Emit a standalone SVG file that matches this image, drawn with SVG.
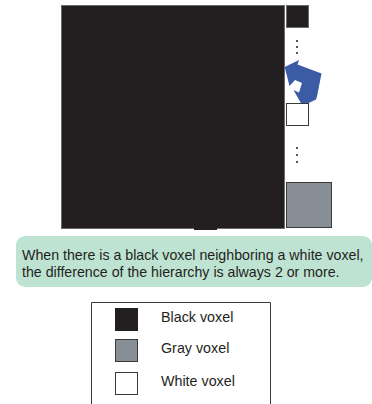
<svg xmlns="http://www.w3.org/2000/svg" width="372" height="404" viewBox="0 0 372 404">
<style>
.t{font-family:"Liberation Sans",Arial,sans-serif;fill:#231f20}
.blk{fill:#231f20;stroke:#6b6b6b;stroke-width:1}
.gry{fill:#878e95;stroke:#3a3a3a;stroke-width:1}
.wht{fill:#ffffff;stroke:#3a3a3a;stroke-width:1}
.dot{fill:#231f20}
</style>
<rect width="372" height="404" fill="#ffffff"/>
<g id="big-black">
<rect class="blk" x="61.5" y="5.5" width="223" height="223"/>
<rect x="194" y="228" width="23" height="2" fill="#231f20"/>
</g>
<g id="small-black"><rect class="blk" x="286.5" y="5.5" width="22" height="22"/></g>
<g id="dots1"><circle class="dot" cx="297" cy="41" r="1"/><circle class="dot" cx="297" cy="47" r="1"/><circle class="dot" cx="297" cy="53" r="1"/></g>
<g id="connectors">
<polygon fill="#3b5ba5" points="284.7,67 299,60 297.5,64.5 321.5,73.5 317,96.5 316,99.5 302.5,106 293.5,90 299,92.5 302,83 295,80 289.5,86"/>
</g>
<g id="small-white"><rect class="wht" x="286.5" y="103.5" width="22" height="22"/></g>
<g id="dots2"><circle class="dot" cx="297" cy="148" r="1"/><circle class="dot" cx="297" cy="155" r="1"/><circle class="dot" cx="297" cy="162" r="1"/></g>
<g id="gray-box"><rect class="gry" x="286.5" y="182.5" width="45" height="45"/></g>
<g id="note">
<rect x="16" y="236" width="356" height="51" rx="9" fill="#bfe3d3"/>
<text class="t" x="22" y="260" font-size="14.2">When there is a black voxel neighboring a white voxel,</text>
<text class="t" x="22" y="277" font-size="14.2">the difference of the hierarchy is always 2 or more.</text>
</g>
<g id="legend">
<path d="M91.5,404 V302.5 H270.5 V404" fill="none" stroke="#3a3a3a" stroke-width="1"/>
<rect class="blk" x="115.5" y="308.5" width="22" height="22" style="stroke:#231f20"/>
<rect class="gry" x="115.5" y="339.5" width="22" height="22"/>
<rect class="wht" x="115.5" y="372.5" width="22" height="22"/>
<text class="t" x="161" y="322" font-size="14.3">Black voxel</text>
<text class="t" x="161" y="353" font-size="14.3">Gray voxel</text>
<text class="t" x="161" y="386" font-size="14.3">White voxel</text>
</g>
</svg>
